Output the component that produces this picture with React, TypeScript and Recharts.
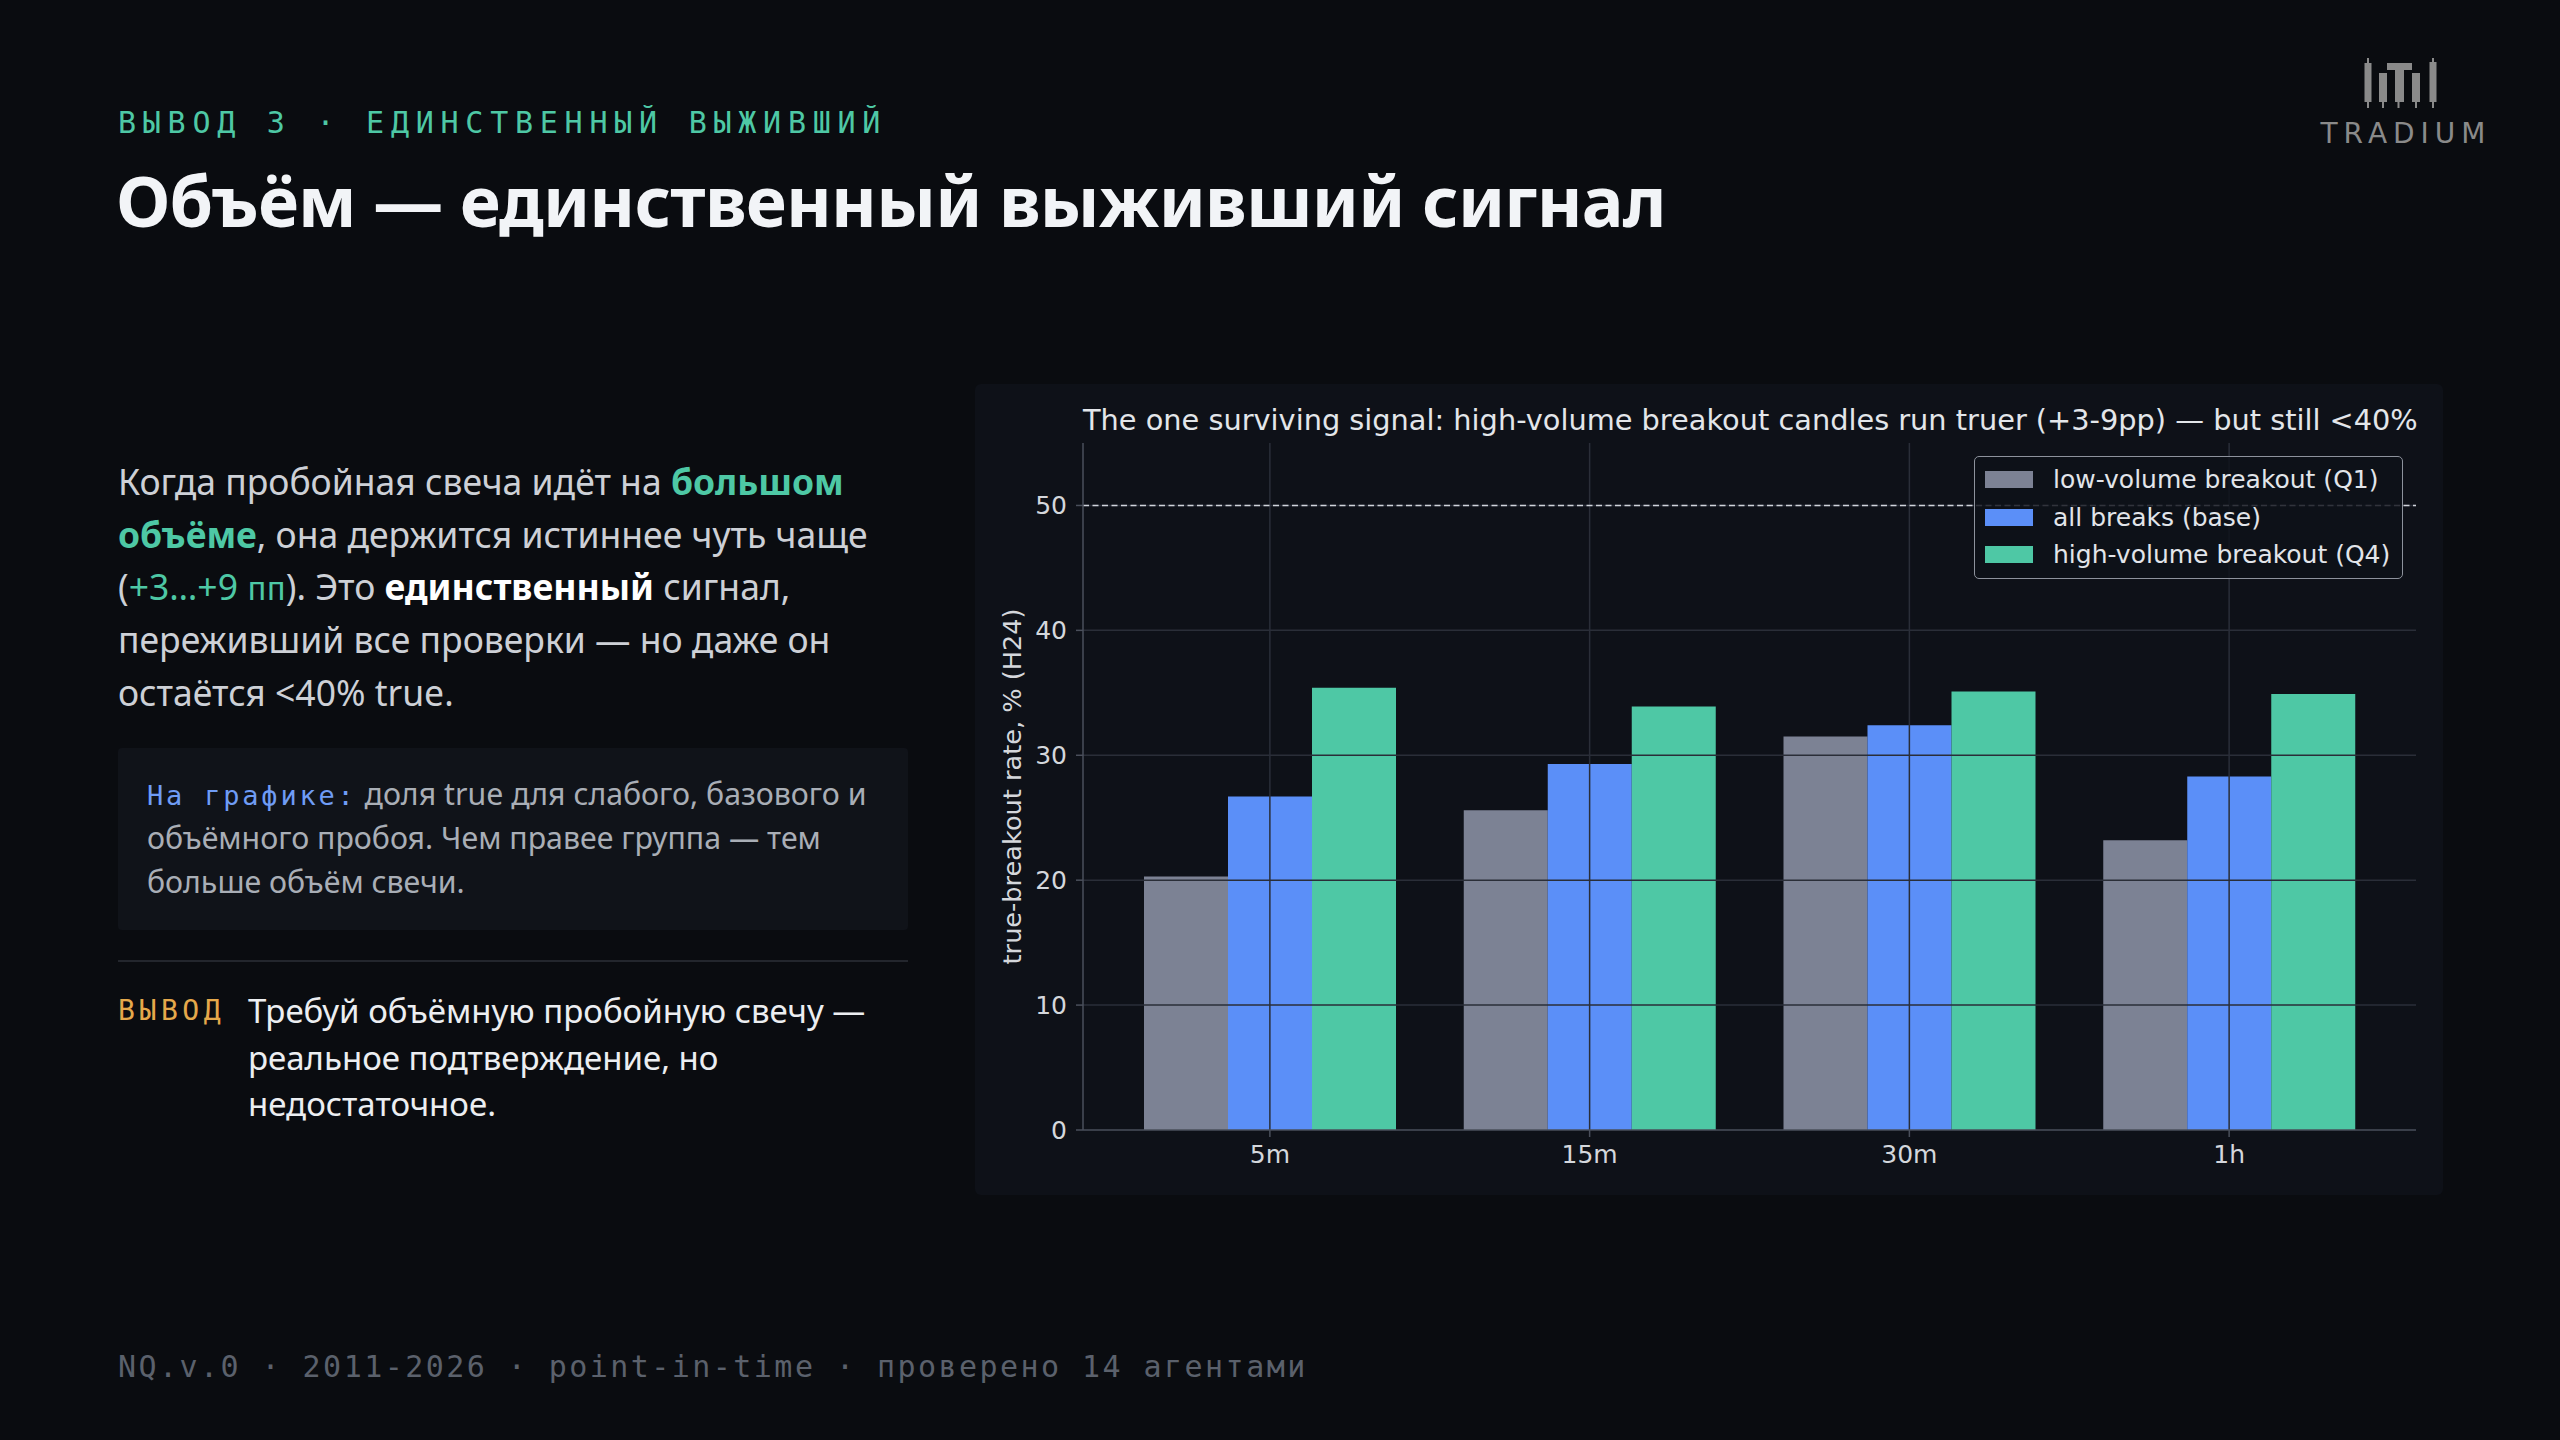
import {
  BarChart,
  Bar,
  XAxis,
  YAxis,
  ReferenceLine,
  Legend,
} from 'recharts';

const timeframes = ['5m', '15m', '30m', '1h'];
const lowVolume = [20.3, 25.6, 31.5, 23.2];
const allBreaks = [26.7, 29.3, 32.4, 28.3];
const highVolume = [35.4, 33.9, 35.1, 34.9];
const yTicks = [0, 10, 20, 30, 40, 50];
const seriesNames = ['low-volume breakout (Q1)', 'all breaks (base)', 'high-volume breakout (Q4)'];
const baselineRate = 50;

const COLORS = ['#7c8294', '#5b8ff8', '#4ec8a5'];
const SANS = '"Noto Sans", sans-serif';
const MONO = '"DejaVu Sans Mono", monospace';
const PLOT_FONT = '"DejaVu Sans", sans-serif';

const chartData = timeframes.map((tf, i) => ({
  tf,
  low: lowVolume[i],
  base: allBreaks[i],
  high: highVolume[i],
}));

function LegendBox(props: any) {
  // keep series order, not alphabetical
  const items = [...(props.payload || [])].sort(
    (a: any, b: any) => seriesNames.indexOf(a.value) - seriesNames.indexOf(b.value),
  );
  return (
    <div
      style={{
        background: 'rgba(14,17,24,0.82)',
        border: '1.5px solid #8d929c',
        borderRadius: 5,
        padding: '4px 12px 4px 10px',
        fontFamily: PLOT_FONT,
        fontSize: 25,
        color: '#e2e5ea',
        whiteSpace: 'nowrap',
      }}
    >
      {items.map((it: any) => (
        <div key={it.value} style={{ display: 'flex', alignItems: 'center', height: 37.5 }}>
          <span style={{ width: 48, height: 17, background: it.color, marginRight: 20, display: 'inline-block' }} />
          <span>{it.value}</span>
        </div>
      ))}
    </div>
  );
}

function YLabel(props: any) {
  const { viewBox } = props;
  const x = viewBox.x + viewBox.width - 71;
  const y = viewBox.y + viewBox.height / 2;
  return (
    <text
      x={x}
      y={y}
      transform={`rotate(-90 ${x} ${y})`}
      textAnchor="middle"
      dominantBaseline="central"
      fill="#d4d7dc"
      fontSize={25.6}
      fontFamily={PLOT_FONT}
    >
      true-breakout rate, %  (H24)
    </text>
  );
}

function Logo() {
  const c = '#8a8a8a';
  return (
    <div style={{ position: 'absolute', left: 2305, top: 56, width: 196, textAlign: 'center' }}>
      <svg width={80} height={52} viewBox="0 0 80 52" style={{ display: 'block', margin: '0 auto' }}>
        <rect x={4} y={2} width={2} height={50} fill={c} />
        <rect x={1.5} y={7} width={7} height={39} fill={c} />
        <rect x={19} y={17} width={2} height={35} fill={c} />
        <rect x={16} y={17} width={8} height={29} fill={c} />
        <rect x={24} y={7} width={25} height={7} fill={c} />
        <rect x={34.5} y={7} width={2} height={45} fill={c} />
        <rect x={32} y={7} width={9} height={39} fill={c} />
        <rect x={52} y={17} width={2} height={35} fill={c} />
        <rect x={49} y={17} width={8} height={29} fill={c} />
        <rect x={69} y={2} width={2} height={50} fill={c} />
        <rect x={66.5} y={6} width={7} height={40} fill={c} />
      </svg>
      <div
        style={{
          fontFamily: '"DejaVu Sans", sans-serif',
          fontSize: 28,
          letterSpacing: 6,
          paddingLeft: 6,
          color: c,
          marginTop: 12,
          lineHeight: 1,
        }}
      >
        TRADIUM
      </div>
    </div>
  );
}

export default function App() {
  return (
    <div
      style={{
        position: 'absolute',
        left: 0,
        top: 0,
        width: 2560,
        height: 1440,
        background: '#0a0c10',
        overflow: 'hidden',
        fontFamily: SANS,
      }}
    >
      <div
        style={{
          position: 'absolute',
          left: 118,
          top: 108,
          fontFamily: MONO,
          fontSize: 30,
          lineHeight: 1,
          letterSpacing: 6.75,
          color: '#4ec8a5',
          whiteSpace: 'pre',
        }}
      >
        ВЫВОД 3 · ЕДИНСТВЕННЫЙ ВЫЖИВШИЙ
      </div>
      <div
        style={{
          position: 'absolute',
          left: 116,
          top: 165,
          fontSize: 70,
          fontWeight: 700,
          lineHeight: 1,
          letterSpacing: -0.8,
          color: '#f2f4f7',
          whiteSpace: 'pre',
        }}
      >
        Объём — единственный выживший сигнал
      </div>

      <Logo />

      <div
        style={{
          position: 'absolute',
          left: 118,
          top: 455,
          fontSize: 35.5,
          lineHeight: '52.7px',
          color: '#cdd0d6',
          whiteSpace: 'pre',
        }}
      >
        Когда пробойная свеча идёт на <b style={{ color: '#4ec8a5' }}>большом</b>
        <br />
        <b style={{ color: '#4ec8a5' }}>объёме</b>, она держится истиннее чуть чаще
        <br />
        (<span style={{ color: '#4ec8a5' }}>+3…+9 <span style={{ fontFamily: MONO, fontSize: 32, lineHeight: 1 }}>пп</span></span>). Это <b style={{ color: '#ffffff' }}>единственный</b> сигнал,
        <br />
        переживший все проверки — но даже он
        <br />
        остаётся &lt;40% true.
      </div>

      <div
        style={{
          position: 'absolute',
          left: 118,
          top: 748,
          width: 790,
          height: 182,
          boxSizing: 'border-box',
          background: '#101319',
          borderRadius: 4,
          padding: '24px 0 0 29px',
          fontSize: 30.3,
          lineHeight: '44px',
          color: '#a9aeb6',
          whiteSpace: 'pre',
        }}
      >
        <span style={{ fontFamily: MONO, fontSize: 27, lineHeight: 1, letterSpacing: 2.8, color: '#6f9cf5' }}>На графике:</span> доля true для слабого, базового и
        <br />
        объёмного пробоя. Чем правее группа — тем
        <br />
        больше объём свечи.
      </div>

      <div style={{ position: 'absolute', left: 118, top: 960, width: 790, height: 1.5, background: '#23262d' }} />

      <div
        style={{
          position: 'absolute',
          left: 118,
          top: 995,
          fontFamily: MONO,
          fontSize: 28,
          lineHeight: '32px',
          letterSpacing: 4.6,
          color: '#e5a84b',
        }}
      >
        ВЫВОД
      </div>
      <div
        style={{
          position: 'absolute',
          left: 248,
          top: 988,
          fontSize: 33,
          lineHeight: '46.5px',
          color: '#eceef1',
          whiteSpace: 'pre',
        }}
      >
        Требуй объёмную пробойную свечу —
        <br />
        реальное подтверждение, но
        <br />
        недостаточное.
      </div>

      <div
        style={{
          position: 'absolute',
          left: 118,
          top: 1352,
          fontFamily: MONO,
          fontSize: 30,
          lineHeight: '30px',
          letterSpacing: 2.45,
          color: '#5b616c',
          whiteSpace: 'pre',
        }}
      >
        NQ.v.0 · 2011-2026 · point-in-time · проверено 14 агентами
      </div>

      <div
        style={{
          position: 'absolute',
          left: 975,
          top: 384,
          width: 1468,
          height: 811,
          background: '#0e1118',
          borderRadius: 6,
        }}
      >
        <div
          style={{
            position: 'absolute',
            left: 108,
            width: 1333,
            top: 19,
            textAlign: 'center',
            fontFamily: PLOT_FONT,
            fontSize: 28.8,
            lineHeight: '34px',
            color: '#e3e6ea',
            whiteSpace: 'pre',
          }}
        >
          The one surviving signal: high-volume breakout candles run truer (+3-9pp) — but still &lt;40%
        </div>
        <BarChart
          width={1468}
          height={811}
          data={chartData}
          margin={{ top: 59, right: 27, bottom: 0, left: 0 }}
          barCategoryGap={34}
          barGap={0}
          style={{ position: 'absolute', left: 0, top: 0 }}
        >
          <XAxis
            dataKey="tf"
            height={65}
            padding={{ left: 27, right: 27 }}
            axisLine={{ stroke: '#4a4f5b', strokeWidth: 1.5 }}
            tickLine={{ stroke: '#4a4f5b', strokeWidth: 1.5 }}
            tickSize={7}
            tickMargin={8}
            tick={{ fill: '#d4d7dc', fontSize: 25, fontFamily: PLOT_FONT }}
          />
          <XAxis
            xAxisId="top"
            orientation="top"
            dataKey="tf"
            height={0}
            padding={{ left: 27, right: 27 }}
            tick={false}
            tickLine={false}
            axisLine={{ stroke: '#4a4f5b', strokeWidth: 1.5 }}
          />
          <YAxis
            width={108}
            domain={[0, 55]}
            ticks={yTicks}
            interval={0}
            axisLine={{ stroke: '#4a4f5b', strokeWidth: 1.5 }}
            tickLine={{ stroke: '#4a4f5b', strokeWidth: 1.5 }}
            tickSize={7}
            tickMargin={9}
            tick={{ fill: '#d4d7dc', fontSize: 25, fontFamily: PLOT_FONT }}
            label={<YLabel />}
          />
          <YAxis
            yAxisId="right"
            orientation="right"
            width={0}
            domain={[0, 55]}
            tick={false}
            tickLine={false}
            axisLine={{ stroke: '#4a4f5b', strokeWidth: 1.5 }}
          />
          <Bar dataKey="low" name={seriesNames[0]} fill={COLORS[0]} isAnimationActive={false} />
          <Bar dataKey="base" name={seriesNames[1]} fill={COLORS[1]} isAnimationActive={false} />
          <Bar dataKey="high" name={seriesNames[2]} fill={COLORS[2]} isAnimationActive={false} />
          {yTicks.slice(1).map((t) => (
            <ReferenceLine key={`h${t}`} y={t} stroke="#2a2e38" strokeWidth={1.5} />
          ))}
          {timeframes.map((tf) => (
            <ReferenceLine key={`v${tf}`} x={tf} stroke="#2a2e38" strokeWidth={1.5} />
          ))}
          <ReferenceLine y={baselineRate} stroke="#d0d4da" strokeWidth={1.6} strokeDasharray="6 3.5" />
          <Legend
            layout="vertical"
            align="center"
            verticalAlign="middle"
            content={<LegendBox />}
            wrapperStyle={{ top: 72, left: 999, width: 'auto' }}
          />
        </BarChart>
      </div>
    </div>
  );
}
